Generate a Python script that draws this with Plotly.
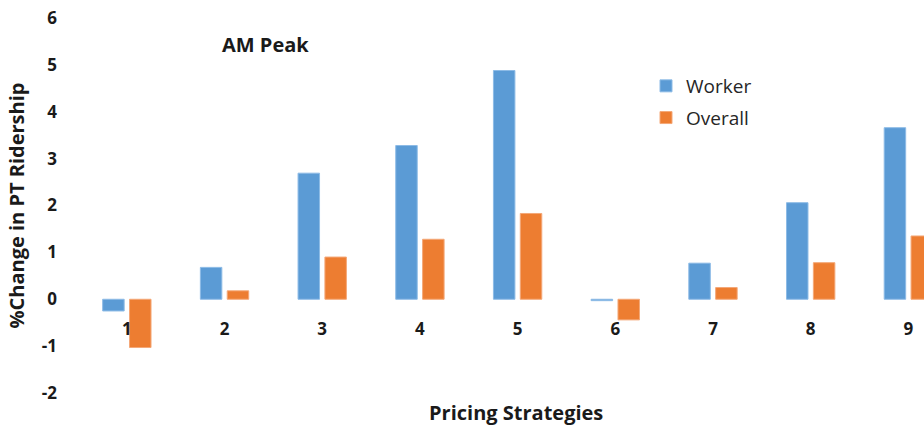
import plotly.graph_objects as go

# Percentage change in public transport ridership, AM peak
strategies = ["1", "2", "3", "4", "5", "6", "7", "8", "9"]
worker = [-0.25, 0.68, 2.69, 3.28, 4.88, -0.03, 0.77, 2.06, 3.66]
overall = [-1.03, 0.18, 0.90, 1.28, 1.83, -0.44, 0.25, 0.78, 1.35]
y_ticks = [-2, -1, 0, 1, 2, 3, 4, 5, 6]
y_tick_text = ["-2", "-1", "0", "1", "2", "3", "4", "5", "6"]

BLUE = "#5B9BD5"
ORANGE = "#ED7D31"
FONT = "Open Sans"
DARK = "#1a1a1a"

L, R, T, B = 78, 0, 18, 36
W, H = 924, 429

fig = go.Figure()
fig.add_trace(go.Bar(x=strategies, y=worker, name="Worker", legendgroup="w",
                     marker=dict(color=BLUE, line=dict(color="#8DBBE6", width=1))))
fig.add_trace(go.Bar(x=strategies, y=overall, name="Overall", legendgroup="o",
                     marker=dict(color=ORANGE, line=dict(color="#F4A878", width=1))))

fig.update_layout(
    width=W, height=H,
    margin=dict(l=L, r=R, t=T, b=B),
    paper_bgcolor="white", plot_bgcolor="white",
    barmode="group", bargap=0.45, bargroupgap=0.2,
    font=dict(family=FONT, color=DARK),
    showlegend=True,
    legend=dict(x=(646 - L) / (W - L - R), y=1 - (67 - T) / (H - T - B),
                xanchor="left", yanchor="top",
                font=dict(family=FONT, size=19, color="#262626"),
                bgcolor="rgba(0,0,0,0)", itemwidth=30, tracegroupgap=4),
    xaxis=dict(type="category", range=[-0.5, 8.16], anchor="free", position=0.25,
               showline=False, showgrid=False, zeroline=False, ticks="",
               ticklabelstandoff=18,
               tickfont=dict(family=FONT, size=17, weight="bold", color=DARK)),
    yaxis=dict(range=[-2, 6], tickvals=y_ticks, ticktext=y_tick_text,
               showline=False, showgrid=False, zeroline=False,
               ticks="", ticklabelstandoff=20,
               tickfont=dict(family=FONT, size=17, weight="bold", color=DARK),
               title=dict(text="%Change in PT Ridership", standoff=11,
                          font=dict(family=FONT, size=20, weight="bold", color=DARK))),
    annotations=[
        dict(text="AM Peak", x=(265 - L) / (W - L - R), y=1 - (45 - T) / (H - T - B),
             xref="paper", yref="paper", xanchor="center", yanchor="middle",
             showarrow=False, font=dict(family=FONT, size=20, weight="bold", color=DARK)),
        dict(text="Pricing Strategies", x=(516 - L) / (W - L - R),
             y=1 - (413 - T) / (H - T - B), xref="paper", yref="paper",
             xanchor="center", yanchor="middle", showarrow=False,
             font=dict(family=FONT, size=20, weight="bold", color=DARK)),
    ],
)

fig.write_html("out.html")
